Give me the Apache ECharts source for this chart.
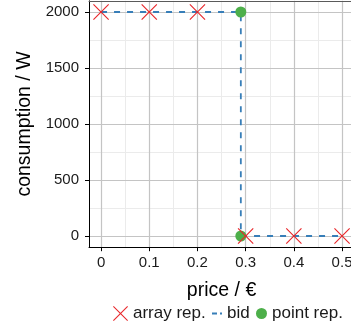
<!DOCTYPE html>
<html>
<head>
<meta charset="utf-8">
<script src="https://cdn.jsdelivr.net/npm/echarts@6/dist/echarts.min.js"></script>
<style>html,body{margin:0;padding:0;background:#fff;}#c{width:351px;height:333px;}</style>
</head>
<body>
<div id="c"></div>
<script>
// ---- data ----
var arrayX = [0, 0.1, 0.2, 0.3, 0.4, 0.5];
var arrayY = [2000, 2000, 2000, 0, 0, 0];
var bidX = [0, 0.29, 0.29, 0.5];
var bidY = [2000, 2000, 0, 0];
var pointX = [0.29, 0.29];
var pointY = [2000, 0];
var xTicks = [0, 0.1, 0.2, 0.3, 0.4, 0.5];
var xMinor = [0.05, 0.15, 0.25, 0.35, 0.45];
var yTicks = [0, 500, 1000, 1500, 2000];
var yMinor = [250, 750, 1250, 1750];
var seriesNames = ['array rep.', 'bid', 'point rep.'];

var FONT = 'Liberation Sans, Arial, Helvetica, sans-serif';
var crossPath = 'path://M0,1L1,0L10,9L19,0L20,1L11,10L20,19L19,20L10,11L1,20L0,19L9,10Z';
var dashIcon = 'path://M0,0L0,0L0,4L0,4Z M13,0L13,0L13,4L13,4Z M3,1.1L8,1.1L8,2.9L3,2.9Z M11,1.1L13,1.1L13,2.9L11,2.9Z';

function zip(xs, ys) { return xs.map(function (x, i) { return [x, ys[i]]; }); }

var gridLines = [];
xMinor.forEach(function (v) { gridLines.push({ xAxis: v, lineStyle: { color: '#ebebeb', width: 1, type: 'solid' } }); });
yMinor.forEach(function (v) { gridLines.push({ yAxis: v, lineStyle: { color: '#ebebeb', width: 1, type: 'solid' } }); });
xTicks.forEach(function (v) { gridLines.push({ xAxis: v, lineStyle: { color: '#c4c4c4', width: 1.2, type: 'solid' } }); });
yTicks.forEach(function (v) { gridLines.push({ yAxis: v, lineStyle: { color: '#c4c4c4', width: 1.2, type: 'solid' } }); });

var chart = echarts.init(document.getElementById('c'), null, { renderer: 'canvas' });
var legendBase = {
  orient: 'horizontal', top: 305, padding: 0, itemGap: 0,
  textStyle: { fontFamily: FONT, fontSize: 17, color: '#1a1a1a' },
  selectedMode: false
};
chart.setOption({
  animation: false,
  backgroundColor: '#ffffff',
  grid: { left: 89, top: 0.8, width: 265.1, height: 246.4, containLabel: false, outerBoundsMode: 'none' },
  xAxis: [{
    type: 'value', min: -0.025, max: 0.525, z: 10,
    name: 'price / €', nameLocation: 'middle', nameGap: 33,
    nameTextStyle: { fontFamily: FONT, fontSize: 19.5, color: '#000' },
    axisLine: { show: true, onZero: false, lineStyle: { color: '#000', width: 1 } },
    axisTick: { show: true, length: 4, customValues: xTicks, lineStyle: { color: '#000', width: 1 } },
    axisLabel: { show: true, margin: 8, customValues: xTicks, fontFamily: FONT, fontSize: 15, color: '#1a1a1a',
      hideOverlap: false, formatter: function (v) { return String(v); } },
    splitLine: { show: false }
  }, {
    type: 'value', position: 'top', min: -0.025, max: 0.525, z: 10,
    axisLine: { show: true, onZero: false, lineStyle: { color: '#5a5a5a', width: 1 } },
    axisTick: { show: false }, axisLabel: { show: false }, splitLine: { show: false }
  }],
  yAxis: {
    type: 'value', min: -100, max: 2100, z: 10,
    name: 'consumption / W', nameLocation: 'middle', nameGap: 40, nameRotate: 90,
    nameTextStyle: { fontFamily: FONT, fontSize: 19.5, color: '#000' },
    axisLine: { show: true, onZero: false, lineStyle: { color: '#000', width: 1 } },
    axisTick: { show: true, length: 4, customValues: yTicks, lineStyle: { color: '#000', width: 1 } },
    axisLabel: { show: true, margin: 10, customValues: yTicks, fontFamily: FONT, fontSize: 15, color: '#1a1a1a',
      formatter: function (v) { return String(v); } },
    splitLine: { show: false }
  },
  legend: [
    Object.assign({}, legendBase, { left: 113, itemWidth: 15, itemHeight: 15, data: [{ name: seriesNames[0], icon: crossPath }] }),
    Object.assign({}, legendBase, { left: 209, itemWidth: 13, itemHeight: 4, data: [{ name: seriesNames[1], icon: dashIcon }] }),
    Object.assign({}, legendBase, { left: 256, itemWidth: 11, itemHeight: 11, data: [{ name: seriesNames[2], icon: 'circle' }] })
  ],
  series: [{
    name: '_grid', type: 'line', data: [], silent: true, z: 1,
    markLine: { silent: true, z: 1, symbol: ['none', 'none'], label: { show: false }, animation: false, data: gridLines }
  }, {
    name: seriesNames[1], type: 'line', z: 3, data: zip(bidX, bidY),
    symbol: 'none', color: '#377eb8',
    lineStyle: { color: '#377eb8', width: 1.8, type: [6, 7] }
  }, {
    name: seriesNames[2], type: 'scatter', z: 4, data: zip(pointX, pointY),
    symbol: 'circle', symbolSize: 11, itemStyle: { color: '#4daf4a', opacity: 1 }
  }, {
    name: seriesNames[0], type: 'scatter', z: 6, data: zip(arrayX, arrayY),
    symbol: crossPath, symbolSize: 16, itemStyle: { color: '#e8262a', opacity: 1 }
  }]
});
</script>
</body>
</html>
